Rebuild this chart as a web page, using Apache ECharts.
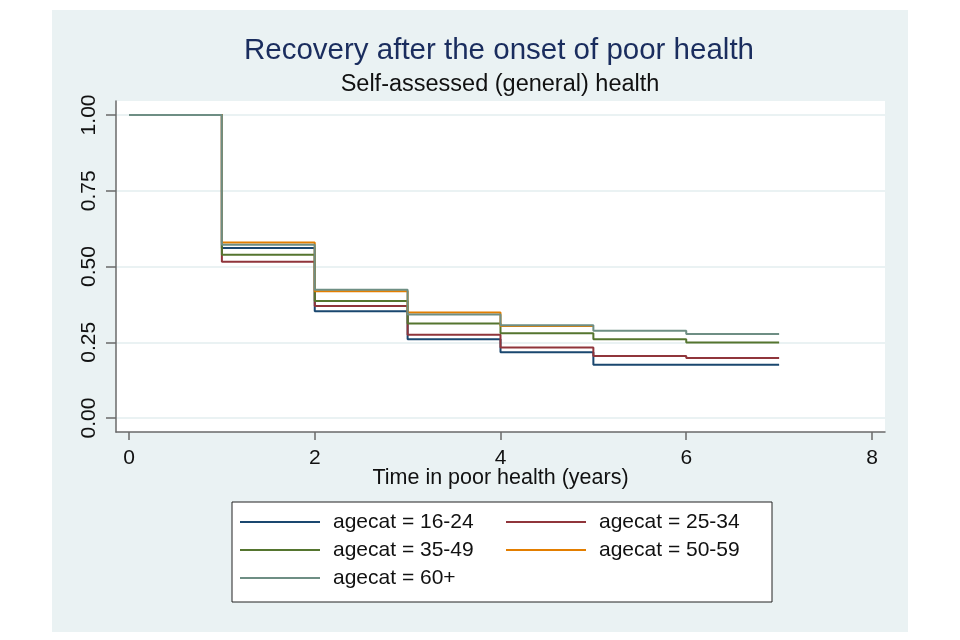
<!DOCTYPE html>
<html>
<head>
<meta charset="utf-8">
<script src="https://cdn.jsdelivr.net/npm/echarts@6/dist/echarts.min.js"></script>
<style>
html,body{margin:0;padding:0;background:#fff;}
#chart{width:960px;height:640px;}
</style>
</head>
<body>
<div id="chart"></div>
<script>
// ---- data ----
const years = [0, 1, 2, 3, 4, 5, 6, 7];
const seriesNames = ['agecat = 16-24', 'agecat = 25-34', 'agecat = 35-49', 'agecat = 50-59', 'agecat = 60+'];
const age16_24 = [1, 0.561, 0.352, 0.260, 0.217, 0.176, 0.176, 0.176];
const age25_34 = [1, 0.516, 0.370, 0.275, 0.233, 0.205, 0.198, 0.198];
const age35_49 = [1, 0.539, 0.386, 0.312, 0.280, 0.260, 0.249, 0.249];
const age50_59 = [1, 0.579, 0.418, 0.348, 0.304, 0.304];
const age60p   = [1, 0.572, 0.423, 0.342, 0.306, 0.288, 0.277, 0.277];
const xTicks = [0, 2, 4, 6, 8];
const yTicks = [0, 0.25, 0.5, 0.75, 1];
const yTickLabels = ['0.00', '0.25', '0.50', '0.75', '1.00'];
const colors = ['#1a476f', '#90353b', '#55752f', '#e37e00', '#6e8e84'];

const allValues = [age16_24, age25_34, age35_49, age50_59, age60p];
const FONT = "'Liberation Sans', Arial, Helvetica, sans-serif";

const chart = echarts.init(document.getElementById('chart'));
const series = allValues.map((vals, i) => ({
  name: seriesNames[i],
  type: 'line',
  step: 'end',
  showSymbol: false,
  symbol: 'none',
  animation: false,
  color: colors[i],
  lineStyle: { width: 2, color: colors[i] },
  data: vals.map((v, k) => [years[k], v])
}));

chart.setOption({
  backgroundColor: '#ffffff',
  animation: false,
  graphic: [{
    type: 'rect', z: -100, silent: true,
    shape: { x: 52, y: 10, width: 856, height: 622 },
    style: { fill: '#eaf2f3' }
  }],
  title: [{
    text: 'Recovery after the onset of poor health',
    left: 499, top: 36, textAlign: 'center', padding: 0,
    textStyle: { fontFamily: FONT, fontSize: 29.5, fontWeight: 'normal', color: '#1a2d5e' }
  }, {
    text: 'Self-assessed (general) health',
    left: 500, top: 73, textAlign: 'center', padding: 0,
    textStyle: { fontFamily: FONT, fontSize: 23.5, fontWeight: 'normal', color: '#111' }
  }],
  grid: {
    left: 116, top: 101, width: 769, height: 331,
    show: true, backgroundColor: '#ffffff', borderWidth: 0,
    containLabel: false
  },
  xAxis: {
    type: 'value', min: -0.14, max: 8.14,
    name: 'Time in poor health (years)',
    nameLocation: 'middle', nameGap: 35, nameMoveOverlap: false,
    nameTextStyle: { fontFamily: FONT, fontSize: 21.5, color: '#111' },
    axisLine: { show: true, onZero: false, lineStyle: { color: '#6a6a6a', width: 1.5 } },
    axisTick: { show: true, customValues: xTicks, length: 8, lineStyle: { color: '#6a6a6a', width: 1.5 } },
    axisLabel: { customValues: xTicks, margin: 16, fontFamily: FONT, fontSize: 21, color: '#111' },
    splitLine: { show: false }
  },
  yAxis: {
    type: 'value', min: -0.046, max: 1.046,
    axisLine: { show: true, onZero: false, lineStyle: { color: '#6a6a6a', width: 1.5 } },
    axisTick: { show: true, customValues: yTicks, length: 10, lineStyle: { color: '#6a6a6a', width: 1.5 } },
    axisLabel: {
      customValues: yTicks, rotate: 90, margin: 16,
      fontFamily: FONT, fontSize: 21, color: '#111',
      formatter: v => { const i = yTicks.indexOf(v); return i >= 0 ? yTickLabels[i] : ''; }
    },
    splitLine: { show: true, lineStyle: { color: '#eaf2f3', width: 2 } }
  },
  legend: {
    data: seriesNames,
    left: 232, top: 502, width: 540,
    orient: 'horizontal',
    padding: [6, 0, 10, 8],
    itemGap: 0,
    itemWidth: 80, itemHeight: 2,
    icon: 'rect',
    backgroundColor: '#ffffff',
    borderColor: '#222', borderWidth: 1, borderRadius: 0,
    textStyle: { fontFamily: FONT, fontSize: 21, color: '#111', lineHeight: 28, width: 173, padding: [0, 0, 0, 8] }
  },
  series: series
});
</script>
</body>
</html>
